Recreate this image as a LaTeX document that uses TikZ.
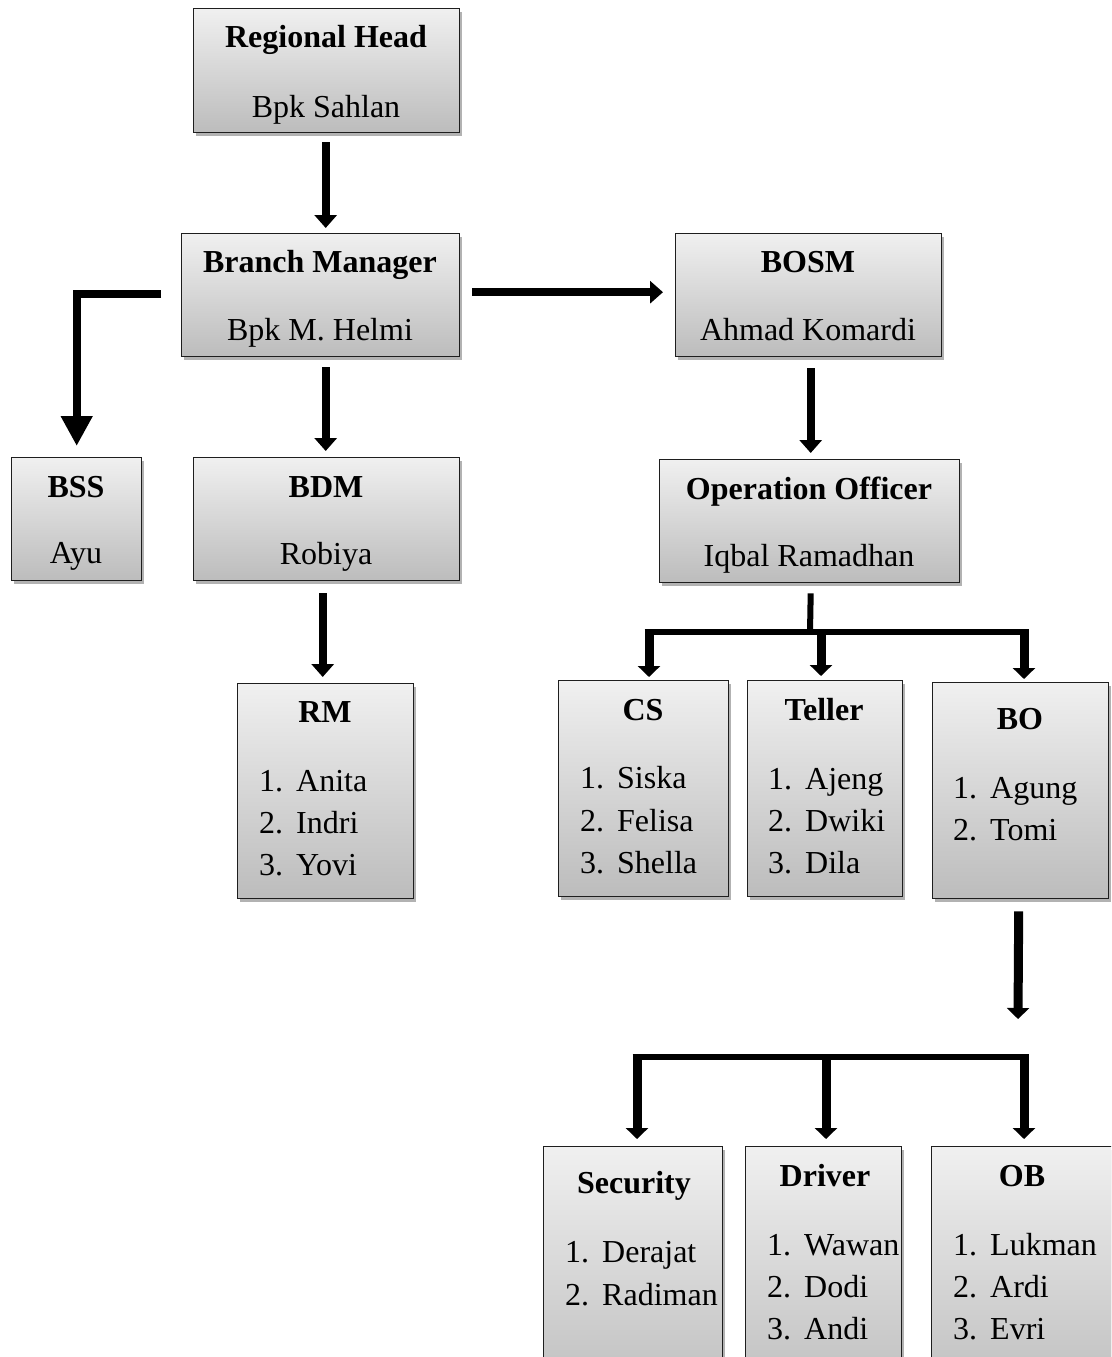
\documentclass[tikz,border=0pt]{standalone}
\usepackage{fontspec}
\setmainfont{Liberation Serif}
\usetikzlibrary{arrows.meta,shadows,calc}
\definecolor{boxtop}{HTML}{F0F0F0}
\definecolor{boxbot}{HTML}{BCBCBC}
\definecolor{boxline}{HTML}{1E1E1E}
\newcommand{\numitem}[2]{\makebox[37pt][l]{#1}#2}
\tikzset{
  box/.style={draw=boxline, line width=1.4pt, top color=boxtop, bottom color=boxbot,
    anchor=north west, inner sep=0pt,
    drop shadow={shadow xshift=2.5pt, shadow yshift=-3pt, fill=black, opacity=0.3}},
  ttl/.style={anchor=base, inner sep=0pt, font=\fontsize{32}{38}\selectfont\bfseries},
  nm/.style={anchor=base, inner sep=0pt, font=\fontsize{32}{38}\selectfont},
  item/.style={anchor=base west, inner sep=0pt, font=\fontsize{32}{38}\selectfont},
  arr/.style={line width=8pt, -{Triangle[width=22pt,length=13pt]}},
  bigarr/.style={line width=8pt, line join=miter, -{Triangle[width=30pt,length=30pt]}},
  treearr/.style={line width=9pt, -{Triangle[width=22pt,length=11pt]}},
  treeline/.style={line width=6pt},
  trunk/.style={line width=6pt}
}
\begin{document}
\begin{tikzpicture}[x=1pt,y=-1pt]
\useasboundingbox (0,0) rectangle (1111,1357);
\clip (0,0) rectangle (1111,1357);

% boxes
\node[box, minimum width=266pt, minimum height=124pt] (rh) at (193,8) {};
\node[box, minimum width=278pt, minimum height=123pt] (bm) at (181,233) {};
\node[box, minimum width=266pt, minimum height=123pt] (bosm) at (675,233) {};
\node[box, minimum width=130pt, minimum height=123pt] (bss) at (11,457) {};
\node[box, minimum width=266pt, minimum height=123pt] (bdm) at (193,457) {};
\node[box, minimum width=300pt, minimum height=123pt] (oo) at (659,459) {};
\node[box, minimum width=176pt, minimum height=215pt] (rm) at (237,683) {};
\node[box, minimum width=170pt, minimum height=216pt] (cs) at (558,680) {};
\node[box, minimum width=155pt, minimum height=216pt] (te) at (747,680) {};
\node[box, minimum width=176pt, minimum height=216pt] (bo) at (932,682) {};
\node[box, minimum width=179pt, minimum height=260pt] (se) at (543,1146) {};
\node[box, minimum width=156pt, minimum height=260pt] (dr) at (745,1146) {};
\node[box, minimum width=190pt, minimum height=260pt] (ob) at (931,1146) {};

% texts
\node[ttl] (rh-t) at (326,47) {Regional Head};
\node[nm]  (rh-n) at (326,117) {Bpk Sahlan};
\node[ttl] (bm-t) at (320,272) {Branch Manager};
\node[nm]  (bm-n) at (320,340) {Bpk M. Helmi};
\node[ttl] (bosm-t) at (808,272) {BOSM};
\node[nm]  (bosm-n) at (808,340) {Ahmad Komardi};
\node[ttl] (bss-t) at (76,497) {BSS};
\node[nm]  (bss-n) at (76,563) {Ayu};
\node[ttl] (bdm-t) at (326,497) {BDM};
\node[nm]  (bdm-n) at (326,564) {Robiya};
\node[ttl] (oo-t) at (809,499) {Operation Officer};
\node[nm]  (oo-n) at (809,566) {Iqbal Ramadhan};

\node[ttl] (rm-t) at (325,722) {RM};
\node[item] (rm1) at (259,791) {\numitem{1.}{Anita}};
\node[item] (rm2) at (259,833) {\numitem{2.}{Indri}};
\node[item] (rm3) at (259,875) {\numitem{3.}{Yovi}};

\node[ttl] (cs-t) at (643,720) {CS};
\node[item] (cs1) at (580,788) {\numitem{1.}{Siska}};
\node[item] (cs2) at (580,831) {\numitem{2.}{Felisa}};
\node[item] (cs3) at (580,873) {\numitem{3.}{Shella}};

\node[ttl] (te-t) at (824,720) {Teller};
\node[item] (te1) at (768,789) {\numitem{1.}{Ajeng}};
\node[item] (te2) at (768,831) {\numitem{2.}{Dwiki}};
\node[item] (te3) at (768,873) {\numitem{3.}{Dila}};

\node[ttl] (bo-t) at (1020,729) {BO};
\node[item] (bo1) at (953,798) {\numitem{1.}{Agung}};
\node[item] (bo2) at (953,840) {\numitem{2.}{Tomi}};

\node[ttl] (se-t) at (634,1193) {Security};
\node[item] (se1) at (565,1262) {\numitem{1.}{Derajat}};
\node[item] (se2) at (565,1305) {\numitem{2.}{Radiman}};

\node[ttl] (dr-t) at (825,1186) {Driver};
\node[item] (dr1) at (767,1255) {\numitem{1.}{Wawan}};
\node[item] (dr2) at (767,1297) {\numitem{2.}{Dodi}};
\node[item] (dr3) at (767,1339) {\numitem{3.}{Andi}};

\node[ttl] (ob-t) at (1022,1186) {OB};
\node[item] (ob1) at (953,1255) {\numitem{1.}{Lukman}};
\node[item] (ob2) at (953,1297) {\numitem{2.}{Ardi}};
\node[item] (ob3) at (953,1339) {\numitem{3.}{Evri}};

% connectors
\draw[arr] ($(rh.south)+(-1,9)$) -- ($(rh.south |- bm.north)+(-1,-5)$);
\draw[arr] ($(bm.east)+(12,-3)$) -- ($(bm.east -| bosm.west)+(-12,-3)$);
\draw[bigarr] ($(bm.west)+(-20,-1)$) -| ($(bss.north)+(0,-11)$);
\draw[arr] ($(bdm.north |- bm.south)+(-1,10)$) -- ($(bdm.north)+(-1,-6)$);
\draw[arr] ($(rm.north |- bdm.south)+(-3,12)$) -- ($(rm.north)+(-3,-6)$);
\draw[arr] ($(bosm.south)+(2,11)$) -- ($(bosm.south |- oo.north)+(2,-6)$);

% Operation Officer tree
\coordinate (j0) at (810,632);
\coordinate (jcs) at (649,632);
\coordinate (jte) at (821,632);
\coordinate (jbo) at (1024,632);
\draw[trunk] ($(oo.south)+(1,10)$) -- (j0);
\draw[treeline] ($(jcs)+(-4.5,0)$) -- ($(jbo)+(4.5,0)$);
\draw[treearr] ($(jcs)+(0,-3)$) -- ($(jcs |- cs.north)+(0,-3)$);
\draw[treearr] ($(jte)+(0,-3)$) -- ($(jte |- te.north)+(0,-4)$);
\draw[treearr] ($(jbo)+(0,-3)$) -- ($(jbo |- bo.north)+(0,-3)$);

% BO arrow and lower tree
\coordinate (kfree) at (1018,1019);
\draw[treearr] ($(bo.south)+(-2,12)$) -- (kfree);
\coordinate (kse) at (637,1057);
\coordinate (kdr) at (826,1057);
\coordinate (kob) at (1024,1057);
\draw[treeline] ($(kse)+(-4.5,0)$) -- ($(kob)+(4.5,0)$);
\draw[treearr] ($(kse)+(0,-3)$) -- ($(kse |- se.north)+(0,-7)$);
\draw[treearr] ($(kdr)+(0,-3)$) -- ($(kdr |- dr.north)+(0,-7)$);
\draw[treearr] ($(kob)+(0,-3)$) -- ($(kob |- ob.north)+(0,-7)$);
\end{tikzpicture}
\end{document}
